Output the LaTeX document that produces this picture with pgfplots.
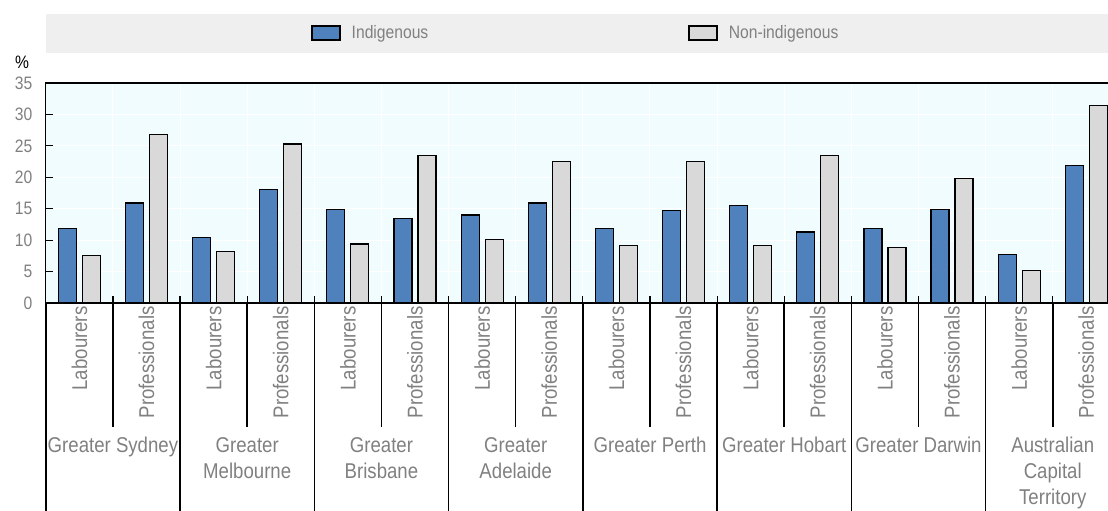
\documentclass[border=0pt]{standalone}
\usepackage{fontspec}
\setmainfont{Liberation Sans}[FakeStretch=0.87]
\usepackage{pgfplots}
\pgfplotsset{compat=1.18}
\definecolor{indig}{HTML}{4F81BD}
\definecolor{nonind}{HTML}{D9D9D9}
\definecolor{plotbg}{RGB}{240,252,254}
\definecolor{leggray}{HTML}{EFEFEF}
\definecolor{txtgray}{HTML}{808080}
\begin{document}
\begin{tikzpicture}
\fill[leggray] (45.8pt,-14pt) rectangle (1108pt,-53pt);
\begin{axis}[
  scale only axis, width=1074.1pt, height=220pt,
  at={(45.8pt,-303pt)}, anchor=south west,
  xmin=-0.5, xmax=15.5, ymin=0, ymax=35,
  ybar=6pt, bar width=18pt,
  axis background/.style={fill=plotbg},
  xtick={-0.5,0.5,...,15.5},
  x tick label as interval,
  xticklabels={Labourers,Professionals,Labourers,Professionals,Labourers,Professionals,Labourers,Professionals,Labourers,Professionals,Labourers,Professionals,Labourers,Professionals,Labourers,Professionals},
  ytick={0,5,...,35},
  xmajorgrids, ymajorgrids,
  grid style={white, line width=1pt},
  tick align=inside,
  xtick pos=bottom, ytick pos=left,
  major tick length=7pt,
  tick style={black, line width=1.2pt},
  axis line style={black, line width=1.2pt},
  xticklabel style={rotate=90, anchor=east, font=\fontsize{21.4}{24}\selectfont, text=txtgray},
  yticklabel style={font=\fontsize{18}{20}\selectfont, text=txtgray, xshift=-10pt},
  /pgf/number format/assume math mode=true,
  legend columns=2,
  legend style={at={(0.2469,1.2273)}, anchor=west, draw=none, fill=none, inner sep=0pt,
    font=\fontsize{18}{20}\selectfont, text=txtgray,
    /tikz/every odd column/.append style={column sep=9pt},
    /tikz/every even column/.append style={column sep=258pt}},
]
\addplot[fill=indig, draw=black, line width=1.2pt,
  legend image code/.code={\draw[fill=indig, draw=black, line width=1.5pt] (0pt,-7pt) rectangle (28pt,7pt);}]
  coordinates {(0,11.9) (1,15.9) (2,10.4) (3,18.0) (4,14.9) (5,13.4) (6,14.0) (7,15.9)
               (8,11.9) (9,14.7) (10,15.5) (11,11.3) (12,11.9) (13,14.9) (14,7.7) (15,21.9)};
\addplot[fill=nonind, draw=black, line width=1.2pt,
  legend image code/.code={\draw[fill=nonind, draw=black, line width=1.5pt] (0pt,-7pt) rectangle (28pt,7pt);}]
  coordinates {(0,7.6) (1,26.8) (2,8.2) (3,25.3) (4,9.4) (5,23.5) (6,10.1) (7,22.5)
               (8,9.1) (9,22.5) (10,9.1) (11,23.5) (12,8.8) (13,19.8) (14,5.2) (15,31.4)};
\legend{Indigenous, Non-indigenous}
\end{axis}
% bottom axis line and separators
\draw[line width=2.5pt] (45.8pt,-303pt) -- (1120pt,-303pt);
\foreach \k in {0,2,...,14} {
  \draw[line width=1.5pt] ({45.8pt+\k*67.13pt},-303pt) -- ({45.8pt+\k*67.13pt},-515pt);
}
\foreach \k in {1,3,...,15} {
  \draw[line width=1.5pt] ({45.8pt+\k*67.13pt},-303pt) -- ({45.8pt+\k*67.13pt},-427pt);
}
\node[font=\fontsize{18}{20}\selectfont] at (22pt,-62pt) {\%};
\begin{scope}[every node/.style={anchor=north, align=center, inner sep=0pt, text=txtgray, font=\fontsize{21.4}{26}\selectfont}]
\node at ({45.8pt+1*67.13pt},-437pt) {Greater Sydney};
\node at ({45.8pt+3*67.13pt},-437pt) {Greater\\Melbourne};
\node at ({45.8pt+5*67.13pt},-437pt) {Greater\\Brisbane};
\node at ({45.8pt+7*67.13pt},-437pt) {Greater\\Adelaide};
\node at ({45.8pt+9*67.13pt},-437pt) {Greater Perth};
\node at ({45.8pt+11*67.13pt},-437pt) {Greater Hobart};
\node at ({45.8pt+13*67.13pt},-437pt) {Greater Darwin};
\node at ({45.8pt+15*67.13pt},-437pt) {Australian\\Capital\\Territory};
\end{scope}
\pgfresetboundingbox
\path[use as bounding box] (0pt,0pt) rectangle (1108pt,-511pt);
\end{tikzpicture}
\end{document}
